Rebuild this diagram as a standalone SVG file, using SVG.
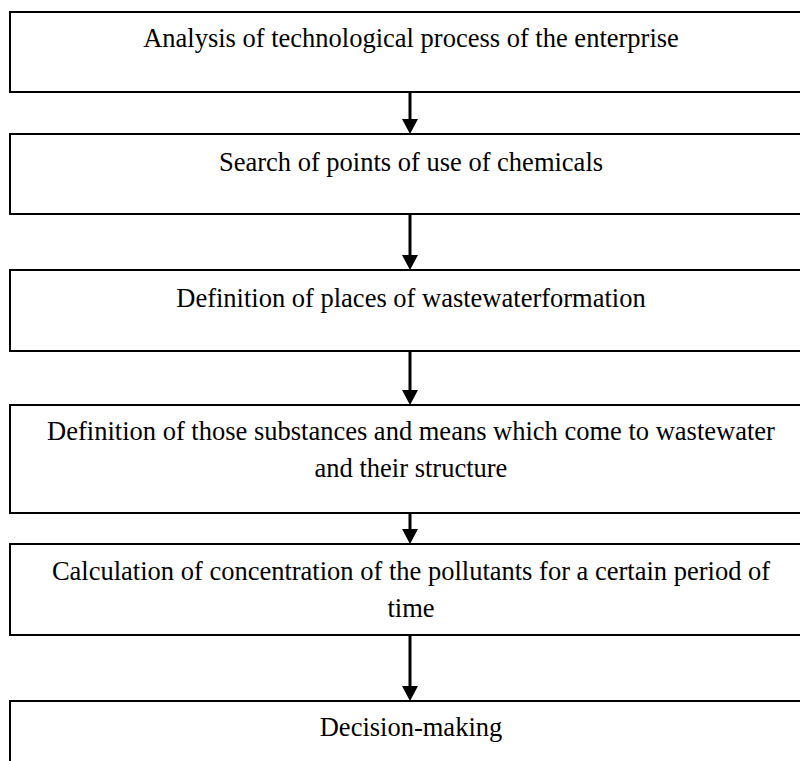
<svg xmlns="http://www.w3.org/2000/svg" width="800" height="761" viewBox="0 0 800 761">
<style>
.box{fill:#fff;stroke:#000;stroke-width:2}
.lbl{font-size:26.5px;fill:#000;text-anchor:middle}
.shaft{stroke:#000;stroke-width:3;fill:none}
</style>
<rect width="800" height="761" fill="#fff"/>
<g font-family="'Liberation Serif', Tinos, 'Times New Roman', Times, 'DejaVu Serif', serif">
<g id="n1"><rect class="box" x="10" y="12" width="820" height="80"/><text class="lbl" x="411" y="47">Analysis of technological process of the enterprise</text></g>
<g id="n2"><rect class="box" x="10" y="134" width="820" height="80"/><text class="lbl" x="411" y="171">Search of points of use of chemicals</text></g>
<g id="n3"><rect class="box" x="10" y="270" width="820" height="81"/><text class="lbl" x="411" y="307">Definition of places of wastewaterformation</text></g>
<g id="n4"><rect class="box" x="10" y="405" width="820" height="108"/><text class="lbl" x="411" y="440">Definition of those substances and means which come to wastewater</text><text class="lbl" x="411" y="477">and their structure</text></g>
<g id="n5"><rect class="box" x="10" y="544" width="820" height="91"/><text class="lbl" x="411" y="580">Calculation of concentration of the pollutants for a certain period of</text><text class="lbl" x="411" y="617">time</text></g>
<g id="n6"><rect class="box" x="10" y="701" width="820" height="100"/><text class="lbl" x="411" y="736">Decision-making</text></g>
</g>
<g id="connectors">
<line class="shaft" x1="410" y1="92" x2="410" y2="120"/><polygon points="402,119 418,119 410,134"/>
<line class="shaft" x1="410" y1="214" x2="410" y2="256"/><polygon points="402,255 418,255 410,270"/>
<line class="shaft" x1="410" y1="351" x2="410" y2="391"/><polygon points="402,390 418,390 410,405"/>
<line class="shaft" x1="410" y1="513" x2="410" y2="530"/><polygon points="402,529 418,529 410,544"/>
<line class="shaft" x1="410" y1="635" x2="410" y2="687"/><polygon points="402,686 418,686 410,701"/>
</g>
</svg>
